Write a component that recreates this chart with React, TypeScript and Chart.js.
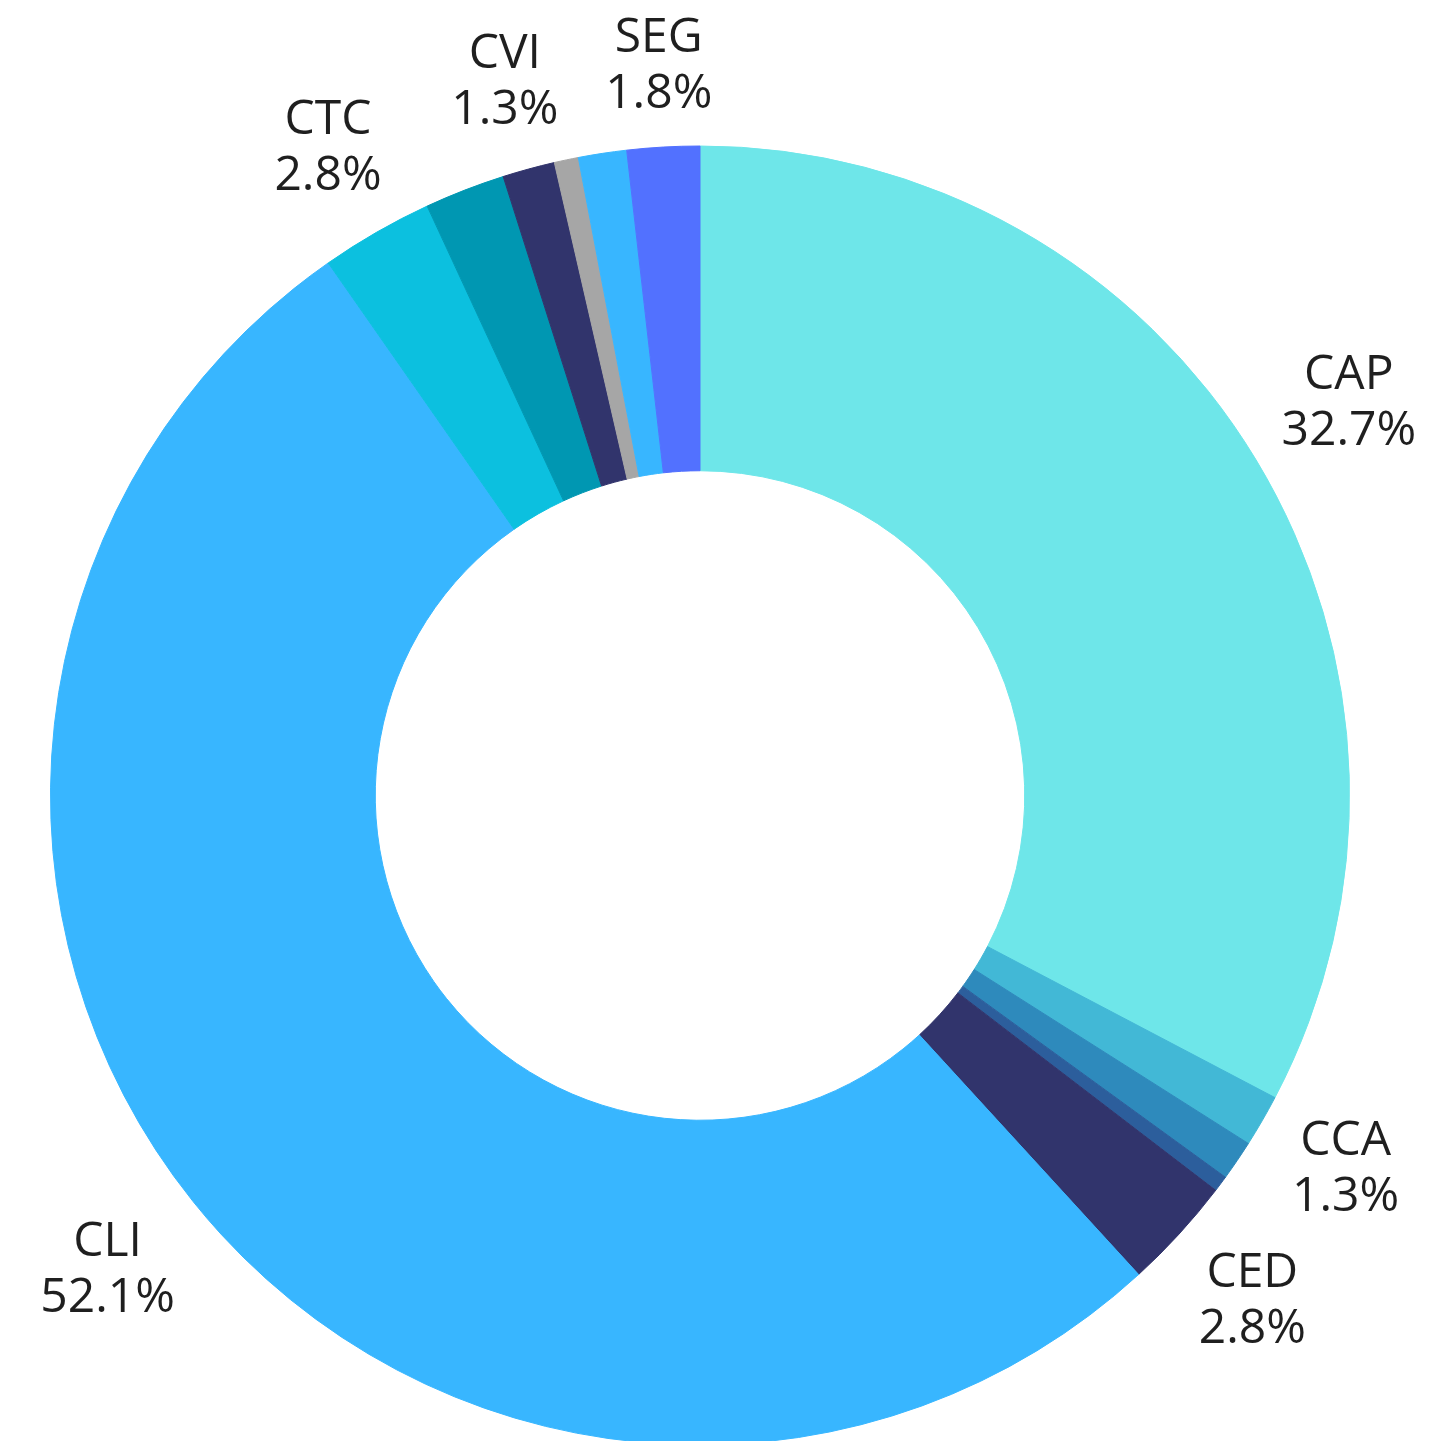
import React, { useEffect, useRef } from "react";
import { Chart, registerables } from "chart.js";

Chart.register(...registerables);

const categories = ["CAP", "CCA", "", "", "CED", "CLI", "CTC", "", "CVI", "", "", "SEG"];
const shares = [32.7, 1.3, 1.0, 0.4, 2.8, 52.1, 2.8, 2.0, 1.3, 0.6, 1.2, 1.8];
const showLabel = [true, true, false, false, true, true, true, false, true, false, false, true];
const colors = [
  "#6EE6E9",
  "#42B8D6",
  "#2E8ABC",
  "#2C5E9C",
  "#31346C",
  "#38B6FF",
  "#0CC0DF",
  "#0097B2",
  "#31346C",
  "#A6A6A6",
  "#38B6FF",
  "#5271FF",
];

const FONT = '48px "Open Sans", "Noto Sans", sans-serif';
const LINE_H = 56;
const GAP = 22;

const labelPlugin = {
  id: "outerLabels",
  afterDatasetsDraw(chart: any) {
    const ctx = chart.ctx;
    const meta = chart.getDatasetMeta(0);
    ctx.save();
    ctx.font = FONT;
    ctx.fillStyle = "#1f1f1f";
    ctx.textAlign = "center";
    ctx.textBaseline = "middle";
    meta.data.forEach((arc: any, i: number) => {
      if (!showLabel[i]) return;
      const { x, y, startAngle, endAngle, outerRadius } = arc.getProps(
        ["x", "y", "startAngle", "endAngle", "outerRadius"],
        true
      );
      const mid = (startAngle + endAngle) / 2;
      const dx = Math.cos(mid);
      const dy = Math.sin(mid);
      const l1 = categories[i];
      const l2 = shares[i].toFixed(1) + "%";
      const hw = Math.max(ctx.measureText(l1).width, ctx.measureText(l2).width) / 2;
      const hh = LINE_H;
      const r = outerRadius + GAP + Math.abs(dx) * hw + Math.abs(dy) * hh;
      const lx = x + dx * r;
      const ly = y + dy * r;
      ctx.fillText(l1, lx, ly - LINE_H / 2);
      ctx.fillText(l2, lx, ly + LINE_H / 2);
    });
    ctx.restore();
  },
};

export default function App() {
  const ref = useRef<HTMLCanvasElement | null>(null);
  useEffect(() => {
    if (!ref.current) return;
    const chart = new Chart(ref.current, {
      type: "doughnut",
      data: {
        labels: categories,
        datasets: [
          {
            data: shares,
            backgroundColor: colors,
            borderColor: colors,
            borderWidth: 1,
            hoverOffset: 0,
          },
        ],
      },
      options: {
        responsive: false,
        maintainAspectRatio: false,
        animation: false,
        cutout: "50%",
        layout: { padding: { left: 50, right: 80, top: 145, bottom: 4 } },
        plugins: {
          legend: { display: false },
          tooltip: { enabled: false },
        },
      },
      plugins: [labelPlugin],
    });
    return () => chart.destroy();
  }, []);
  return (
    <div
      style={{
        position: "absolute",
        left: 0,
        top: 0,
        width: 1430,
        height: 1441,
        overflow: "hidden",
        background: "#fff",
      }}
    >
      <canvas ref={ref} width={1430} height={1450} style={{ width: 1430, height: 1450, display: "block" }} />
    </div>
  );
}
